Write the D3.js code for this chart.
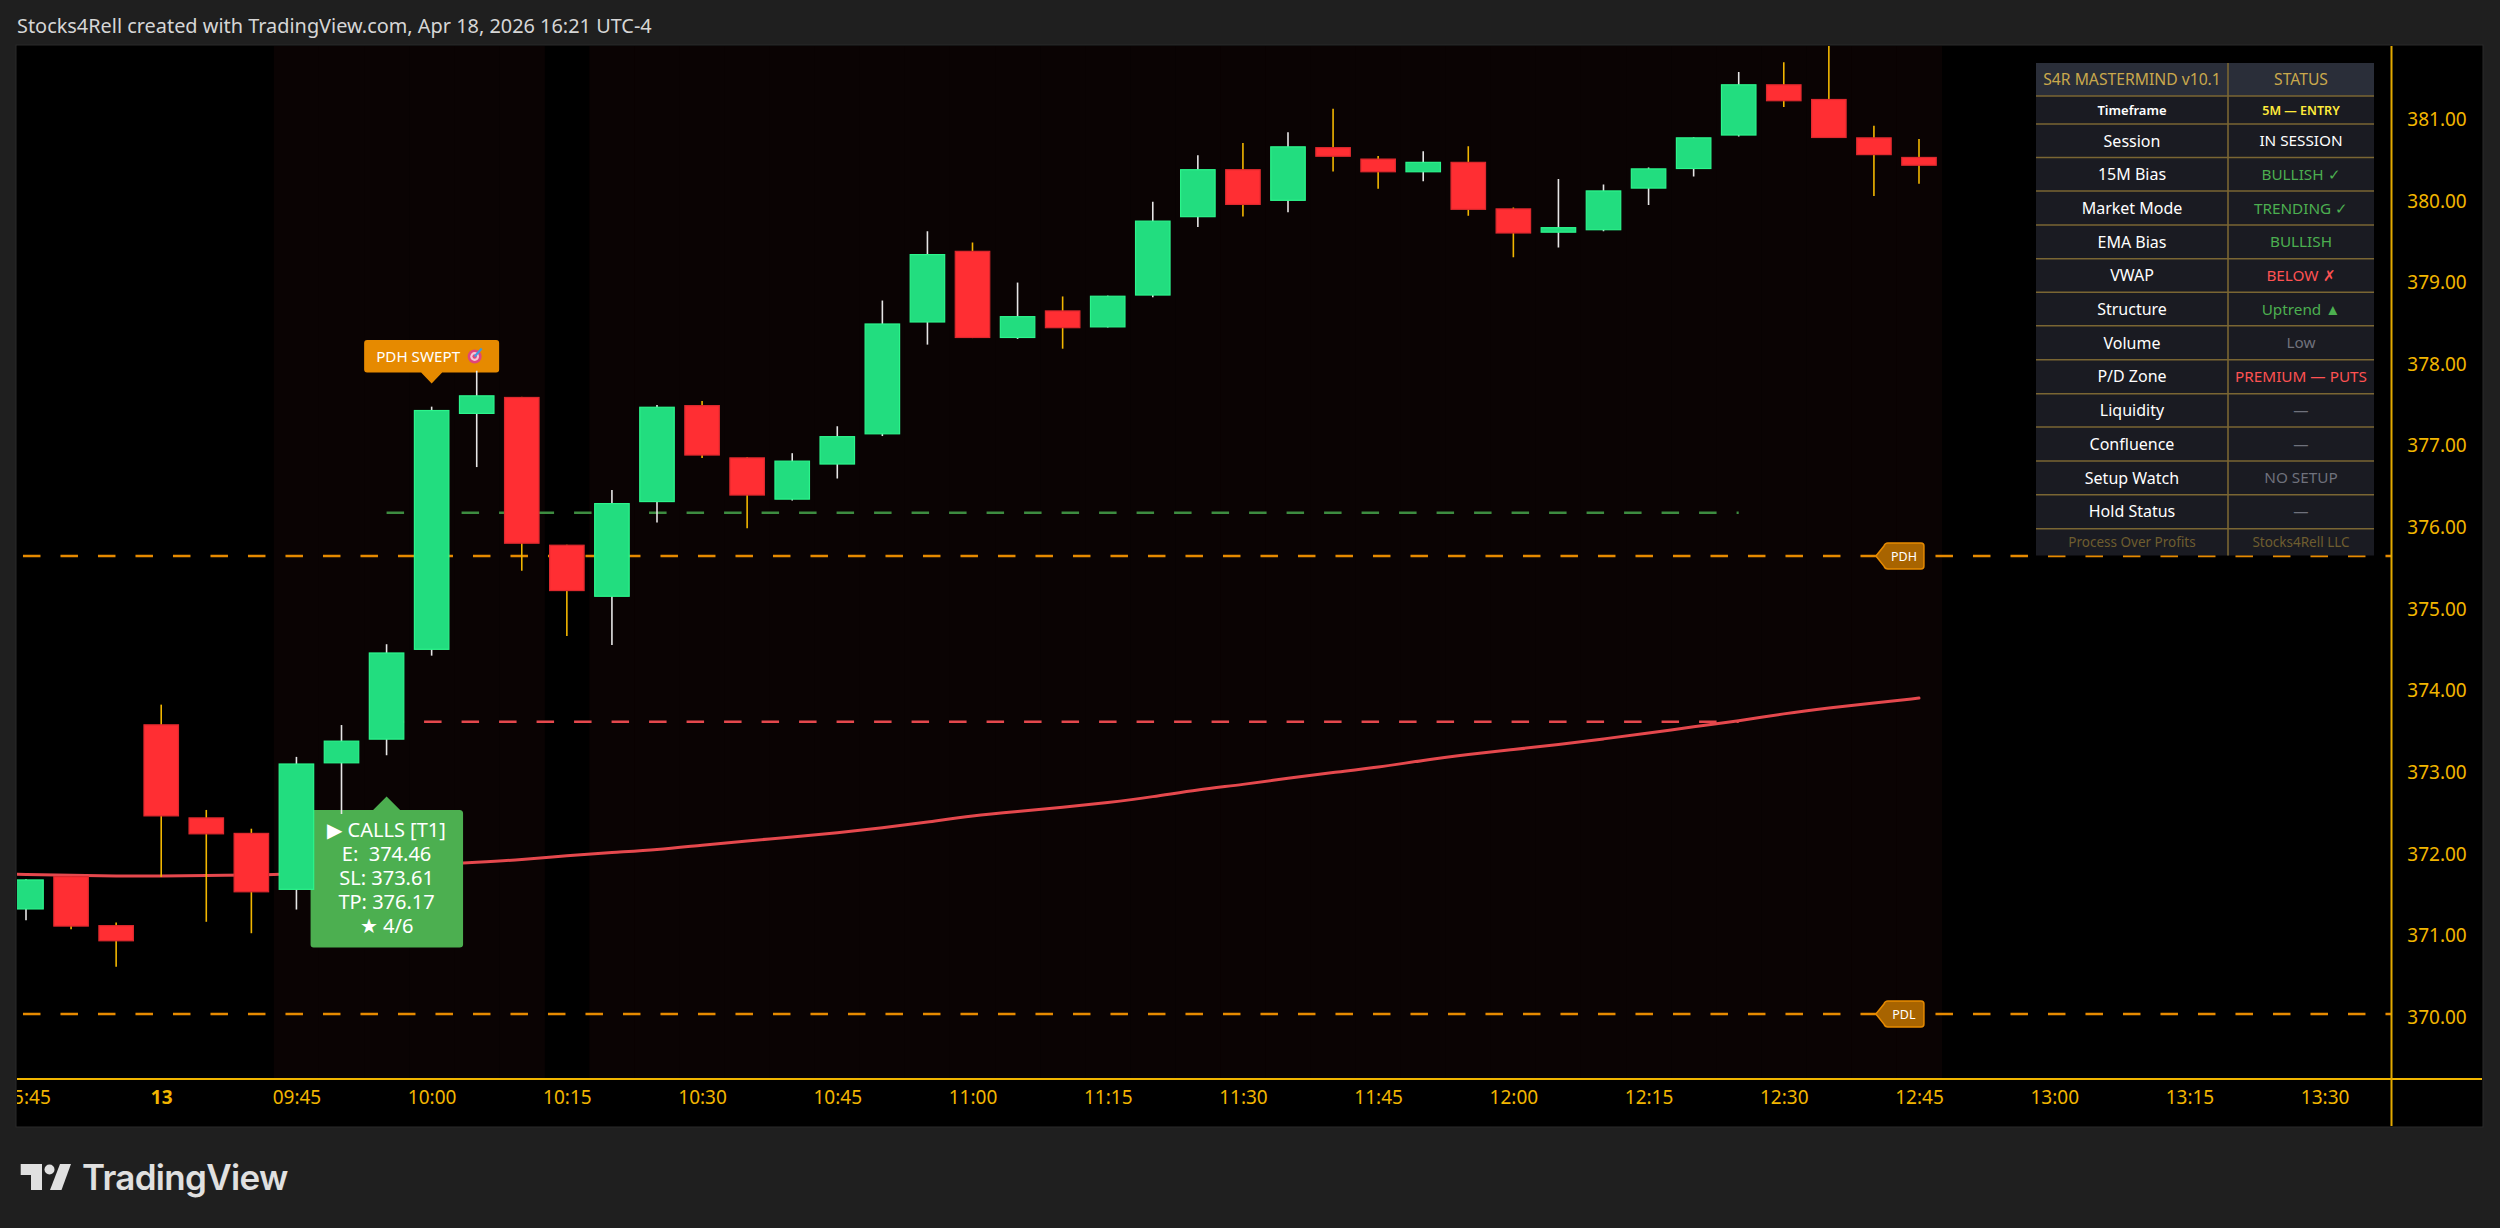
<!DOCTYPE html>
<html>
<head>
<meta charset="utf-8">
<script src="https://cdn.jsdelivr.net/npm/d3@7"></script>
<style>
    html, body { margin: 0; padding: 0; background: #1f1f1f; overflow: hidden; }
    text { font-family: "Noto Sans", sans-serif; }
</style>
</head>
<body>
<div id="chart"></div>
<script>
// 5m bars, first one is 15:45 of the day before
const opens  = [371.32,371.73,371.13,373.59,372.45,372.26,371.56,373.11,373.40,374.50,377.39,377.60,375.79,375.15,376.31,377.50,376.86,376.34,376.77,377.14,378.51,379.39,378.32,378.66,378.45,378.84,379.80,380.39,380.00,380.66,380.52,380.35,380.48,379.91,379.61,379.64,380.15,380.39,380.80,381.43,381.25,380.78,380.54];
const highs  = [371.69,371.73,371.16,373.83,372.54,372.31,373.19,373.58,374.57,377.48,377.92,377.60,375.79,376.46,377.50,377.55,376.86,376.91,377.24,378.78,379.63,379.49,379.00,378.83,378.84,379.99,380.56,380.71,380.84,381.13,380.55,380.61,380.67,379.92,380.27,380.20,380.41,380.78,381.58,381.70,382.00,380.92,380.76];
const lows   = [371.19,371.08,370.62,371.72,371.17,371.03,371.32,372.49,373.21,374.43,376.74,375.47,374.67,374.56,376.06,376.85,375.99,376.33,376.60,377.12,378.24,378.32,378.31,378.19,378.45,378.82,379.68,379.81,379.86,380.36,380.15,380.24,379.82,379.31,379.43,379.63,379.95,380.30,380.79,381.15,380.77,380.06,380.21];
const closes = [371.69,371.11,370.93,372.46,372.24,371.53,373.11,373.39,374.47,377.44,377.62,375.80,375.22,376.30,377.48,376.88,376.39,376.82,377.12,378.50,379.35,378.32,378.59,378.44,378.84,379.76,380.39,379.95,380.67,380.54,380.35,380.48,379.89,379.60,379.68,380.13,380.40,380.78,381.43,381.22,380.77,380.56,380.43];

// red line, one value per bar, first value belongs to the bar before the first candle
const lineValues = [371.76,371.75,371.74,371.73,371.73,371.74,371.74,371.76,371.79,371.83,371.87,371.90,371.93,371.98,372.02,372.05,372.11,372.16,372.21,372.26,372.32,372.39,372.47,372.52,372.57,372.63,372.70,372.79,372.85,372.93,373.00,373.06,373.15,373.22,373.28,373.34,373.41,373.48,373.56,373.63,373.72,373.79,373.85,373.91];

// session shading, 1 = tinted bar
const tintedBars = [0,0,0,0,0,0,1,1,1,1,1,1,0,1,1,1,1,1,1,1,1,1,1,1,1,1,1,1,1,1,1,1,1,1,1,1,1,1,1,1,1,1,1];

const timeLabels = ["15:45","13","09:45","10:00","10:15","10:30","10:45","11:00","11:15","11:30","11:45","12:00","12:15","12:30","12:45","13:00","13:15","13:30"];
const priceTicks = [370,371,372,373,374,375,376,377,378,379,380,381];

const pdh = 375.65;
const pdl = 370.04;
const entry = 373.62;
const target = 376.18;

const callsLines = ["▶ CALLS [T1]", "E:  374.46", "SL: 373.61", "TP: 376.17", "★ 4/6"];

const tableNames = ["Timeframe","Session","15M Bias","Market Mode","EMA Bias","VWAP","Structure","Volume","P/D Zone","Liquidity","Confluence","Setup Watch","Hold Status"];
const tableValues = ["5M — ENTRY","IN SESSION","BULLISH ✓","TRENDING ✓","BULLISH","BELOW ✗","Uptrend ▲","Low","PREMIUM — PUTS","—","—","NO SETUP","—"];
const tableColors = ["#ffeb3b","#ffffff","#4caf50","#4caf50","#4caf50","#ff5252","#4caf50","#6f717c","#ff5252","#6f717c","#6f717c","#6f717c","#6f717c"];

class CandleChart
{
    constructor(parentElement) {
        this.parentElement = parentElement;
        this.colors = {
            "page": "#1f1f1f",
            "tint": "#0a0303",
            "green": "#22dd7f",
            "green edge": "#2cf58c",
            "red": "#ff2e33",
            "red edge": "#dd292e",
            "amber": "#f2b600",
            "axis": "#e3a900",
            "orange": "#e68a00",
            "line red": "#e5484d",
            "dash green": "#3d8c40",
            "panel": "#1a1b22",
            "panel head": "#2a2e39",
            "panel line": "#7a6633",
            "gold": "#c9a84c"
        };
        this.initVis();
    }

    initVis() {
        let vis = this;

        vis.pane = {left: 17, right: 2482, top: 46, bottom: 1126, axisX: 2391.5, axisY: 1079};

        vis.svg = d3.select("#" + vis.parentElement).append("svg")
            .attr("width", 2500)
            .attr("height", 1228)
            .style("display", "block");

        vis.x = d3.scaleLinear().domain([0, 42]).range([26, 1919]);
        vis.y = d3.scaleLinear().domain([370, 381]).range([1017.3, 119.3]);
        vis.bodyWidth = 35.7;

        let defs = vis.svg.append("defs");
        defs.append("clipPath").attr("id", "plot-clip").append("rect")
            .attr("x", vis.pane.left).attr("y", vis.pane.top)
            .attr("width", vis.pane.axisX - vis.pane.left).attr("height", vis.pane.axisY - vis.pane.top);
        defs.append("clipPath").attr("id", "pane-clip").append("rect")
            .attr("x", vis.pane.left).attr("y", vis.pane.top)
            .attr("width", vis.pane.right - vis.pane.left).attr("height", vis.pane.bottom - vis.pane.top);

        vis.svg.append("text")
            .attr("x", 17).attr("y", 32.5)
            .attr("font-size", 19.9)
            .attr("fill", "#d6d6d6")
            .text("Stocks4Rell created with TradingView.com, Apr 18, 2026 16:21 UTC-4");

        vis.svg.append("rect")
            .attr("x", vis.pane.left - 1).attr("y", vis.pane.top - 1)
            .attr("width", vis.pane.right - vis.pane.left + 2).attr("height", vis.pane.bottom - vis.pane.top + 2)
            .attr("fill", "#000").attr("stroke", "#2b2b2b");

        vis.plot = vis.svg.append("g").attr("clip-path", "url(#plot-clip)");

        vis.drawShading();
        vis.drawLines();
        vis.drawLabels();
        vis.drawCandles();
        vis.drawAxes();
        vis.drawTable();
        vis.drawLogo();
    }

    drawShading() {
        let vis = this;
        let step = vis.x(1) - vis.x(0);

        vis.plot.selectAll(".tint")
            .data(tintedBars)
            .enter()
            .append("rect")
            .attr("class", "tint")
            .attr("x", (d, i) => vis.x(i) - step / 2)
            .attr("y", vis.pane.top)
            .attr("width", step + 0.5)
            .attr("height", vis.pane.axisY - vis.pane.top)
            .attr("fill", d => d ? vis.colors["tint"] : "none");
    }

    drawLines() {
        let vis = this;

        // start/end bar of each level, dashes are the same everywhere
        let levels = [
            {value: pdh, from: -0.067, to: 55, color: vis.colors["orange"]},
            {value: pdl, from: -0.067, to: 55, color: vis.colors["orange"]},
            {value: entry, from: 8, to: 38, color: vis.colors["line red"]},
            {value: target, from: 8, to: 38, color: vis.colors["dash green"]}
        ];

        vis.plot.selectAll(".level")
            .data(levels)
            .enter()
            .append("line")
            .attr("class", "level")
            .attr("x1", d => vis.x(d.from))
            .attr("x2", d => vis.x(d.to))
            .attr("y1", d => vis.y(d.value))
            .attr("y2", d => vis.y(d.value))
            .attr("stroke", d => d.color)
            .attr("stroke-width", 2.6)
            .attr("stroke-dasharray", "17.5 20");

        let line = d3.line()
            .x((d, i) => vis.x(i - 1))
            .y(d => vis.y(d))
            .curve(d3.curveBasis); // values are read by eye, this takes the wobble out

        vis.plot.append("path")
            .attr("d", line(lineValues))
            .attr("fill", "none")
            .attr("stroke", vis.colors["line red"])
            .attr("stroke-width", 3)
            .attr("stroke-linecap", "round");
    }

    drawLabels() {
        let vis = this;

        // PDH / PDL tags
        let tags = [{name: "PDH", value: pdh}, {name: "PDL", value: pdl}];
        let tag = vis.plot.selectAll(".tag")
            .data(tags)
            .enter()
            .append("g")
            .attr("class", "tag")
            .attr("transform", d => `translate(${vis.x(41) + 2}, ${vis.y(d.value)})`);

        tag.append("path")
            .attr("d", "M0,0 L8,-10 Q9,-13 12,-13 L45,-13 Q48,-13 48,-10 L48,10 Q48,13 45,13 L12,13 Q9,13 8,10 Z")
            .attr("fill", "#a86400")
            .attr("stroke", vis.colors["orange"])
            .attr("stroke-width", 1.5);

        tag.append("text")
            .attr("x", 28).attr("y", 4.5)
            .attr("text-anchor", "middle")
            .attr("font-size", 12.5)
            .attr("fill", "#fff")
            .text(d => d.name);

        // calls box hangs under bar 8
        let calls = vis.plot.append("g")
            .attr("transform", `translate(${vis.x(8)}, 796.5)`);

        calls.append("path")
            .attr("d", "M0,0 L13.5,13.5 L73,13.5 Q76.5,13.5 76.5,17 L76.5,148 Q76.5,151 73,151 L-73,151 Q-76,151 -76,148 L-76,17 Q-76,13.5 -73,13.5 L-13.5,13.5 Z")
            .attr("fill", "#4caf50");

        calls.selectAll("text")
            .data(callsLines)
            .enter()
            .append("text")
            .attr("x", 0)
            .attr("y", (d, i) => 40 + i * 24.1)
            .attr("text-anchor", "middle")
            .attr("font-size", 20)
            .attr("fill", "#fff")
            .attr("xml:space", "preserve")
            .text(d => d);

        // swept label sits above bar 9
        let swept = vis.plot.append("g")
            .attr("transform", `translate(${vis.x(9)}, 383.5)`);

        swept.append("path")
            .attr("d", "M0,0 L-10.5,-11 L-64.5,-11 Q-67.5,-11 -67.5,-14 L-67.5,-40.5 Q-67.5,-43.5 -64.5,-43.5 L64.5,-43.5 Q67.5,-43.5 67.5,-40.5 L67.5,-14 Q67.5,-11 64.5,-11 L10.5,-11 Z")
            .attr("fill", vis.colors["orange"]);

        swept.append("text")
            .attr("x", -55.5).attr("y", -21.5)
            .attr("font-size", 15.2)
            .attr("fill", "#fff")
            .text("PDH SWEPT");

        // emoji font is missing here, so the target is made from circles
        let dart = swept.append("g").attr("transform", "translate(43, -27)");
        dart.append("circle").attr("r", 7).attr("fill", "#e0457b");
        dart.append("circle").attr("r", 4.4).attr("fill", "#f3c6d6");
        dart.append("circle").attr("r", 2.2).attr("fill", "#e0457b");
        dart.append("line")
            .attr("x1", 0).attr("y1", 0).attr("x2", 7).attr("y2", -8)
            .attr("stroke", "#3f9be0").attr("stroke-width", 2.2);
    }

    drawCandles() {
        let vis = this;

        vis.displayData = opens.map((o, i) => ({
            index: i, open: o, high: highs[i], low: lows[i], close: closes[i], up: closes[i] >= o
        }));

        let candle = vis.plot.selectAll(".candle")
            .data(vis.displayData)
            .enter()
            .append("g")
            .attr("class", "candle");

        candle.append("line")
            .attr("x1", d => vis.x(d.index))
            .attr("x2", d => vis.x(d.index))
            .attr("y1", d => vis.y(d.high))
            .attr("y2", d => vis.y(d.low))
            .attr("stroke", d => d.up ? "#e6e6e6" : vis.colors["amber"])
            .attr("stroke-width", 1.6);

        candle.append("rect")
            .attr("x", d => vis.x(d.index) - vis.bodyWidth / 2 + 0.6)
            .attr("width", vis.bodyWidth - 1.2)
            .attr("y", d => vis.y(Math.max(d.open, d.close)) + 0.6)
            .attr("height", d => Math.max(1, Math.abs(vis.y(d.open) - vis.y(d.close)) - 1.2))
            .attr("fill", d => d.up ? vis.colors["green"] : vis.colors["red"])
            .attr("stroke", d => d.up ? vis.colors["green edge"] : vis.colors["red edge"])
            .attr("stroke-width", 1.2);
    }

    drawAxes() {
        let vis = this;

        let tickBars = timeLabels.map((d, i) => i * 3);

        let xAxis = d3.axisBottom(vis.x)
            .tickValues(tickBars)
            .tickFormat((d, i) => timeLabels[i])
            .tickSize(0)
            .tickPadding(0);

        let xGroup = vis.svg.append("g")
            .attr("clip-path", "url(#pane-clip)")
            .append("g")
            .attr("transform", `translate(0, 1090)`)
            .call(xAxis);

        xGroup.select(".domain").remove();
        xGroup.selectAll("text")
            .attr("font-family", "Noto Sans")
            .attr("font-size", 19)
            .attr("fill", vis.colors["amber"])
            .attr("font-weight", (d, i) => timeLabels[i] === "13" ? 700 : 400);

        let yAxis = d3.axisRight(vis.y)
            .tickValues(priceTicks)
            .tickFormat(d3.format(".2f"))
            .tickSize(0)
            .tickPadding(0);

        let yGroup = vis.svg.append("g")
            .attr("transform", `translate(2437, 0)`)
            .call(yAxis);

        yGroup.select(".domain").remove();
        yGroup.selectAll("text")
            .attr("text-anchor", "middle")
            .attr("font-family", "Noto Sans")
            .attr("font-size", 19)
            .attr("fill", vis.colors["amber"]);

        vis.svg.append("line")
            .attr("x1", vis.pane.left).attr("x2", vis.pane.right)
            .attr("y1", vis.pane.axisY).attr("y2", vis.pane.axisY)
            .attr("stroke", vis.colors["amber"]).attr("stroke-width", 2);

        vis.svg.append("line")
            .attr("x1", vis.pane.axisX).attr("x2", vis.pane.axisX)
            .attr("y1", vis.pane.top).attr("y2", vis.pane.bottom)
            .attr("stroke", vis.colors["axis"]).attr("stroke-width", 2);
    }

    drawTable() {
        let vis = this;

        let left = 2036, mid = 2228, right = 2374;
        let rowTops = [63, 96, 124, 157.5, 191, 225, 258.7, 292.3, 325.8, 359.7, 393.7, 427, 461, 494.7, 528.7, 555.5];

        let rows = [{name: "S4R MASTERMIND v10.1", value: "STATUS", color: vis.colors["gold"], nameColor: vis.colors["gold"], size: 15.7, valueSize: 15.7, fill: vis.colors["panel head"]}];
        tableNames.forEach((n, i) => rows.push({
            name: n, value: tableValues[i], color: tableColors[i], nameColor: "#fff",
            size: i === 0 ? 13 : 16, valueSize: i === 0 ? 12.5 : 15.3, fill: vis.colors["panel"], bold: i === 0
        }));
        rows.push({name: "Process Over Profits", value: "Stocks4Rell LLC", color: "#6e5d2f", nameColor: "#6e5d2f", size: 13.5, valueSize: 13.5, fill: vis.colors["panel"]});

        let table = vis.svg.append("g");

        let row = table.selectAll(".row")
            .data(rows)
            .enter()
            .append("g")
            .attr("class", "row");

        row.append("rect")
            .attr("x", left)
            .attr("y", (d, i) => rowTops[i])
            .attr("width", right - left)
            .attr("height", (d, i) => rowTops[i + 1] - rowTops[i])
            .attr("fill", d => d.fill);

        row.append("text")
            .attr("x", (left + mid) / 2)
            .attr("y", (d, i) => (rowTops[i] + rowTops[i + 1]) / 2 + d.size * 0.36)
            .attr("text-anchor", "middle")
            .attr("font-size", d => d.size)
            .attr("font-weight", d => d.bold ? 600 : 400)
            .attr("fill", d => d.nameColor)
            .text(d => d.name);

        row.append("text")
            .attr("x", (mid + right) / 2)
            .attr("y", (d, i) => (rowTops[i] + rowTops[i + 1]) / 2 + d.valueSize * 0.36)
            .attr("text-anchor", "middle")
            .attr("font-size", d => d.valueSize)
            .attr("font-weight", d => d.bold ? 600 : 400)
            .attr("fill", d => d.color)
            .text(d => d.value);

        table.selectAll(".row-line")
            .data(rowTops.slice(1, -1))
            .enter()
            .append("line")
            .attr("class", "row-line")
            .attr("x1", left).attr("x2", right)
            .attr("y1", d => d).attr("y2", d => d)
            .attr("stroke", vis.colors["panel line"])
            .attr("stroke-width", 1.6);

        table.append("line")
            .attr("x1", mid).attr("x2", mid)
            .attr("y1", rowTops[0]).attr("y2", rowTops[rowTops.length - 1])
            .attr("stroke", vis.colors["panel line"])
            .attr("stroke-width", 1.6);
    }

    drawLogo() {
        let vis = this;
        let logo = vis.svg.append("g").attr("fill", "#e0e0e0");

        logo.append("path").attr("d", "M20.7,1164 L42,1164 L42,1190 L31,1190 L31,1175 L20.7,1175 Z");
        logo.append("circle").attr("cx", 49.5).attr("cy", 1169.5).attr("r", 5);
        logo.append("path").attr("d", "M60,1164 L71,1164 L61.5,1190 L50,1190 Z");

        logo.append("text")
            .attr("x", 82).attr("y", 1190)
            .style("font-family", "Inter")
            .attr("font-size", 35)
            .attr("font-weight", 600)
            .attr("letter-spacing", -0.7)
            .text("TradingView");
    }
}

new CandleChart("chart");
</script>
</body>
</html>
